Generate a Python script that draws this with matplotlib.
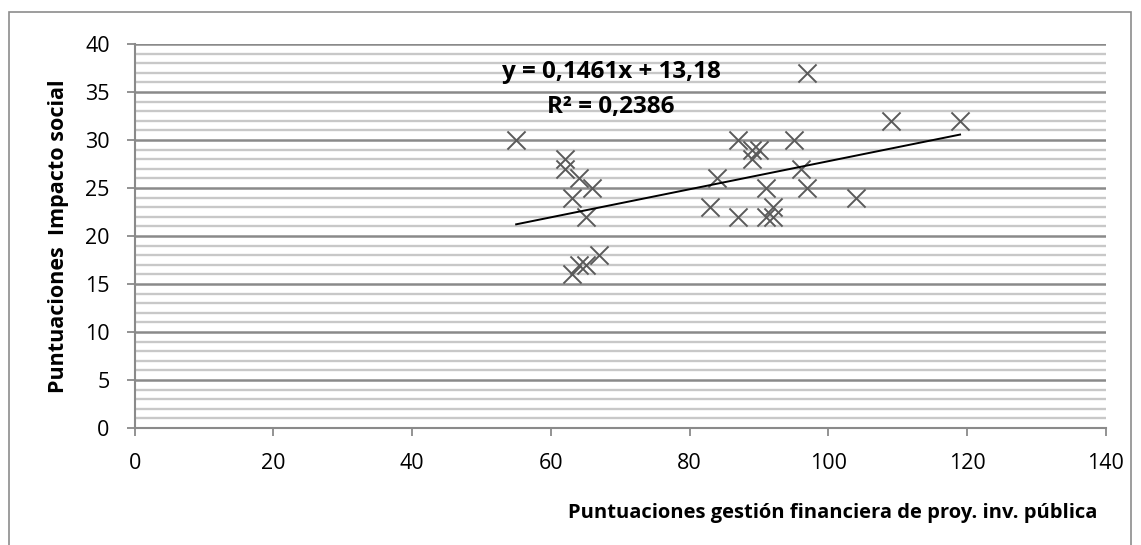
import numpy as np
import matplotlib.pyplot as plt
from matplotlib.patches import Rectangle
from matplotlib.ticker import MultipleLocator

plt.rcParams['font.family'] = ['Open Sans', 'DejaVu Sans']

# puntuaciones
gestion = [55, 62, 62, 64, 66, 63, 65, 67, 65, 64, 63,
           97, 87, 95, 90, 89, 89, 96, 84, 91, 97, 104, 83, 87, 92, 91, 92, 109, 119]
impacto = [30, 28, 27, 26, 25, 24, 22, 18, 17, 17, 16,
           37, 30, 30, 29, 29, 28, 27, 26, 25, 25, 24, 23, 22, 23, 22, 22, 32, 32]
slope = 0.1461
intercept = 13.18
r2 = 0.2386

fig = plt.figure(figsize=(11.41, 5.45), dpi=100)
ax = fig.add_axes([134.7 / 1141, 1 - 428 / 545, (1105.7 - 134.7) / 1141, 384 / 545])

# marco exterior
fig.patches.append(Rectangle((9 / 1141, -0.1), 1122 / 1141, 1.1 - 12 / 545,
                             transform=fig.transFigure, fill=False,
                             edgecolor='#8c8c8c', linewidth=1.2))

ax.set_xlim(0, 140)
ax.set_ylim(0, 40)
ax.xaxis.set_major_locator(MultipleLocator(20))
ax.yaxis.set_major_locator(MultipleLocator(5))
ax.yaxis.set_minor_locator(MultipleLocator(1))
ax.grid(axis='y', which='major', color='#8a8a8a', linewidth=1.8)
ax.grid(axis='y', which='minor', color='#c8c8c8', linewidth=1.7)
ax.set_axisbelow(True)
ax.tick_params(axis='y', which='minor', length=0)
ax.tick_params(which='major', length=6, width=1.3, color='#8a8a8a',
               labelsize=15.5, pad=12, labelcolor='black')

for s in ['top', 'right']:
    ax.spines[s].set_visible(False)
for s in ['left', 'bottom']:
    ax.spines[s].set_color('#8a8a8a')
    ax.spines[s].set_linewidth(1.5)

ax.scatter(gestion, impacto, marker='x', s=170, color='#5a5a5a', linewidths=1.4, zorder=3)

xs = np.array([min(gestion), max(gestion)])
ax.plot(xs, slope * xs + intercept, color='black', linewidth=1.4, zorder=4)

eq = f"y = {slope:.4f}x + {intercept:.2f}".replace('.', ',')
ax.text(68.7, 37.1, eq, ha='center', va='center', fontsize=17.5, fontweight='bold', zorder=5)
ax.text(68.7, 33.4, f"R² = {r2:.4f}".replace('.', ','), ha='center', va='center',
        fontsize=17.5, fontweight='bold', zorder=5)

fig.text(59 / 1141, 1 - 236 / 545, 'Puntuaciones  Impacto social', rotation=90,
         ha='center', va='center', fontsize=15.5, fontweight='bold')
fig.text(1097 / 1141, 1 - 513 / 545, 'Puntuaciones gestión financiera de proy. inv. pública',
         ha='right', va='center', fontsize=14.5, fontweight='bold')

fig.savefig('out.png', dpi=100)
